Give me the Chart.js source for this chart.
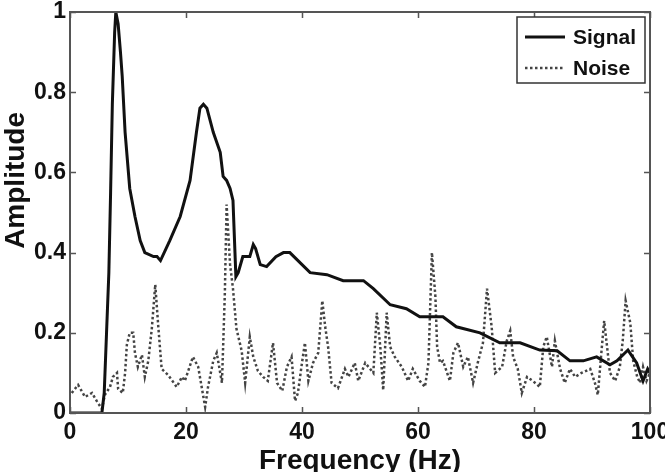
<!DOCTYPE html>
<html>
<head>
<meta charset="utf-8">
<script src="https://cdn.jsdelivr.net/npm/chart.js@4.4.1/dist/chart.umd.min.js"></script>
<style>
html,body{margin:0;padding:0;background:#fff;}
#wrap{width:665px;height:472px;position:relative;}
</style>
</head>
<body>
<div id="wrap"><canvas id="c" width="665" height="472"></canvas></div>
<script>
// ---- data ----
const sigF = [0,5.5,5.9,6.3,6.7,7.0,7.3,7.7,7.9,8.3,8.7,9.0,9.5,10.3,11.2,12.1,12.9,14.4,15.0,15.6,17.2,19.0,20.7,21.8,22.4,23.0,23.6,24.7,25.9,26.4,27.0,27.6,28.1,28.6,29.0,29.8,31.0,31.6,32.0,32.8,33.9,35.5,36.8,37.9,41.4,44.3,47.1,50.6,52.3,55.2,58.0,60.3,64.3,66.6,70.7,74.1,77.6,81.0,84.0,86.2,88.5,90.8,93.1,94.3,96.2,97.7,98.8,99.6,100];
const sigA = [0,0,0.05,0.2,0.35,0.55,0.77,0.95,1.0,0.97,0.9,0.84,0.70,0.56,0.49,0.43,0.40,0.39,0.39,0.38,0.43,0.49,0.58,0.70,0.76,0.77,0.76,0.70,0.65,0.59,0.58,0.56,0.53,0.34,0.35,0.39,0.39,0.42,0.41,0.37,0.365,0.39,0.40,0.40,0.35,0.345,0.33,0.33,0.31,0.27,0.26,0.24,0.24,0.215,0.20,0.175,0.175,0.157,0.155,0.13,0.13,0.14,0.12,0.13,0.157,0.125,0.08,0.11,0.10];
const noiseF = [0.3,1.4,2.6,3.8,4.6,5.5,6.0,6.9,7.4,8.1,8.3,9.1,9.5,9.8,10.3,10.9,11.2,11.7,12.4,12.9,13.5,14.1,14.7,15.2,15.8,16.9,18.4,19.3,19.8,21.2,22.1,23.3,23.8,24.7,25.3,26.2,26.4,26.7,27.0,27.6,28.1,28.7,29.6,30.2,31.0,31.6,32.4,33.3,34.1,35.0,35.7,36.6,37.4,38.2,38.8,39.3,39.9,40.5,41.1,41.9,42.8,43.5,44.0,44.5,45.1,46.2,47.4,48.0,49.1,49.7,50.9,52.3,52.9,53.5,54.0,54.6,55.2,56.0,57.2,58.3,59.1,60.3,61.2,61.8,62.4,63.0,63.3,63.8,64.3,65.5,66.1,66.9,67.8,68.6,69.5,70.3,71.2,71.9,72.7,73.3,74.5,75.3,75.9,76.4,77.2,77.9,78.8,79.8,81.0,81.6,82.2,83.1,83.6,84.5,85.3,86.2,87.1,88.2,89.7,90.5,91.0,91.7,92.1,92.6,93.1,94.0,94.8,95.3,95.8,96.6,97.1,97.8,98.3,98.8,99.4,100];
const noiseA = [0.05,0.07,0.04,0.05,0.03,0.01,0.045,0.065,0.09,0.10,0.06,0.05,0.10,0.17,0.20,0.20,0.15,0.115,0.145,0.09,0.13,0.21,0.32,0.22,0.11,0.095,0.065,0.09,0.08,0.14,0.115,0.015,0.065,0.13,0.15,0.075,0.165,0.30,0.52,0.37,0.31,0.21,0.155,0.075,0.19,0.14,0.105,0.09,0.08,0.175,0.075,0.055,0.115,0.14,0.03,0.05,0.115,0.175,0.08,0.125,0.15,0.28,0.215,0.165,0.075,0.062,0.11,0.09,0.125,0.08,0.125,0.10,0.25,0.165,0.057,0.25,0.165,0.14,0.115,0.08,0.11,0.08,0.065,0.125,0.40,0.29,0.165,0.125,0.13,0.08,0.15,0.175,0.115,0.14,0.075,0.125,0.175,0.31,0.215,0.10,0.115,0.18,0.205,0.14,0.11,0.05,0.09,0.08,0.065,0.165,0.19,0.115,0.18,0.11,0.075,0.11,0.09,0.10,0.11,0.075,0.045,0.165,0.23,0.165,0.10,0.08,0.115,0.18,0.28,0.225,0.13,0.09,0.075,0.115,0.08,0.10];
const seriesNames = ['Signal','Noise'];
const xTitle = 'Frequency (Hz)';
const yTitle = 'Amplitude';

const FONT = "'Liberation Sans', Arial, sans-serif";
const TXT = '#111';

const frameTicks = {
  id: 'frameTicks',
  afterDatasetsDraw(chart) {
    const {ctx, chartArea: a, scales} = chart;
    ctx.save();
    ctx.strokeStyle = '#555';
    ctx.lineWidth = 1.5;
    ctx.beginPath();
    scales.x.ticks.forEach(t => {
      const px = Math.round(scales.x.getPixelForValue(t.value)) + 0.5;
      ctx.moveTo(px, a.bottom); ctx.lineTo(px, a.bottom - 6);
      ctx.moveTo(px, a.top); ctx.lineTo(px, a.top + 6);
    });
    scales.y.ticks.forEach(t => {
      const py = Math.round(scales.y.getPixelForValue(t.value)) + 0.5;
      ctx.moveTo(a.left, py); ctx.lineTo(a.left + 6, py);
      ctx.moveTo(a.right, py); ctx.lineTo(a.right - 6, py);
    });
    ctx.stroke();
    ctx.lineWidth = 2;
    ctx.strokeRect(a.left, a.top, a.right - a.left, a.bottom - a.top);
    ctx.restore();
  }
};

// y-axis title (drawn slightly above the axis centre, as in the reference)
const yTitlePlugin = {
  id: 'yTitlePlugin',
  afterDraw(chart) {
    const {ctx, chartArea: a} = chart;
    ctx.save();
    ctx.translate(16, a.top + (a.bottom - a.top) * 0.42);
    ctx.rotate(-Math.PI / 2);
    ctx.fillStyle = TXT;
    ctx.font = "bold 28px " + FONT;
    ctx.textAlign = 'center';
    ctx.textBaseline = 'middle';
    ctx.fillText(yTitle, 0, 0);
    ctx.restore();
  }
};

const boxLegend = {
  id: 'boxLegend',
  afterDraw(chart) {
    const {ctx, chartArea: a} = chart;
    const w = 128, h = 66;
    const x0 = a.right - 5 - w, y0 = a.top + 5;
    ctx.save();
    ctx.fillStyle = '#fff';
    ctx.fillRect(x0, y0, w, h);
    ctx.strokeStyle = '#333';
    ctx.lineWidth = 1.5;
    ctx.strokeRect(x0, y0, w, h);
    const rows = [y0 + 20, y0 + 51];
    chart.data.datasets.forEach((ds, i) => {
      const y = rows[i];
      ctx.beginPath();
      ctx.strokeStyle = ds.borderColor;
      ctx.lineWidth = ds.borderWidth;
      ctx.setLineDash(ds.borderDash || []);
      ctx.moveTo(x0 + 8, y); ctx.lineTo(x0 + 48, y);
      ctx.stroke();
      ctx.setLineDash([]);
      ctx.fillStyle = TXT;
      ctx.font = "bold 21px " + FONT;
      ctx.textAlign = 'left';
      ctx.textBaseline = 'middle';
      ctx.fillText(ds.label, x0 + 56, y + 1);
    });
    ctx.restore();
  }
};

new Chart(document.getElementById('c'), {
  type: 'line',
  data: {
    datasets: [
      {
        label: seriesNames[0],
        data: sigF.map((f, i) => ({x: f, y: sigA[i]})),
        borderColor: '#111',
        borderWidth: 3,
        pointRadius: 0,
        tension: 0,
        fill: false
      },
      {
        label: seriesNames[1],
        data: noiseF.map((f, i) => ({x: f, y: noiseA[i]})),
        borderColor: '#444',
        borderWidth: 2.5,
        borderDash: [2.5, 2.5],
        pointRadius: 0,
        tension: 0,
        fill: false
      }
    ]
  },
  options: {
    responsive: false,
    animation: false,
    layout: {padding: {top: 12, right: 15, left: 0, bottom: 0}},
    plugins: {legend: {display: false}, tooltip: {enabled: false}},
    scales: {
      x: {
        type: 'linear', min: 0, max: 100,
        ticks: {stepSize: 20, color: TXT, font: {family: FONT, size: 23, weight: 'bold'}, padding: 6, maxRotation: 0},
        grid: {display: false, drawTicks: false},
        border: {display: false},
        title: {display: true, text: xTitle, color: TXT, font: {family: FONT, size: 28, weight: 'bold', lineHeight: 0.75}, padding: {top: 0, bottom: 0}},
        afterFit(s) { s.height = 59; s.paddingLeft = 0; s.paddingRight = 0; }
      },
      y: {
        type: 'linear', min: 0, max: 1,
        ticks: {stepSize: 0.2, color: TXT, font: {family: FONT, size: 23, weight: 'bold'}, padding: 4,
                callback: v => String(Math.round(v * 10) / 10)},
        grid: {display: false, drawTicks: false},
        border: {display: false},
        title: {display: false},
        afterFit(s) { s.width = 70; s.paddingTop = 0; s.paddingBottom = 0; }
      }
    }
  },
  plugins: [frameTicks, yTitlePlugin, boxLegend]
});
</script>
</body>
</html>
